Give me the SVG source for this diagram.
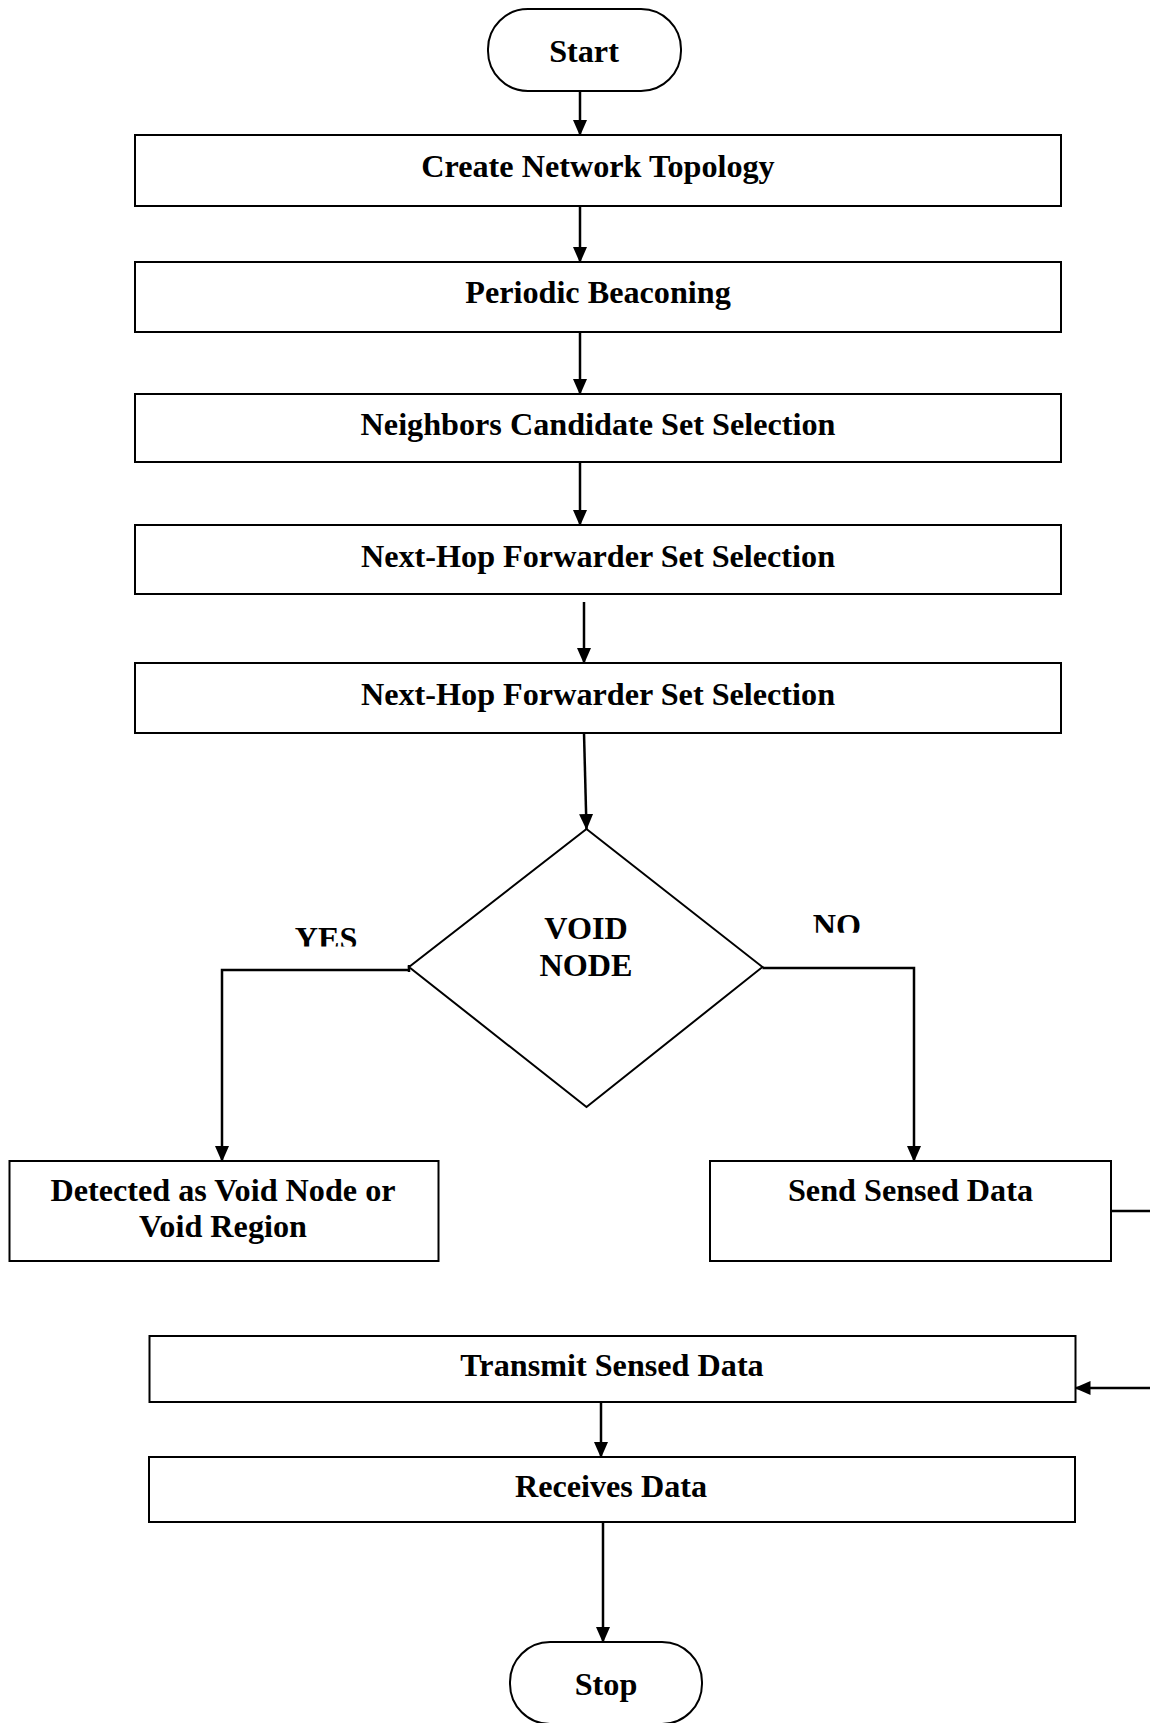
<svg xmlns="http://www.w3.org/2000/svg" width="1150" height="1723" viewBox="0 0 1150 1723">
<style>
.box{fill:#fff;stroke:#000;stroke-width:2}
.t{font-family:"Liberation Serif","Times New Roman",serif;font-weight:bold;font-size:32.2px;text-anchor:middle;fill:#000}
.c{fill:none;stroke:#000;stroke-width:2.5}
</style>
<defs>
<marker id="ah" markerUnits="userSpaceOnUse" markerWidth="16" markerHeight="14" refX="15" refY="7" orient="auto">
<path d="M0,0 L16,7 L0,14 z" fill="#000"/>
</marker>
<clipPath id="clipYes"><rect x="250" y="900" width="150" height="46.5"/></clipPath>
<clipPath id="clipNo"><rect x="780" y="890" width="120" height="42.7"/></clipPath>
</defs>
<rect width="1150" height="1723" fill="#fff"/>
<g id="connectors">
<line class="c" x1="580" y1="91" x2="580" y2="135" marker-end="url(#ah)"/>
<line class="c" x1="580" y1="206" x2="580" y2="262" marker-end="url(#ah)"/>
<line class="c" x1="580" y1="332" x2="580" y2="394" marker-end="url(#ah)"/>
<line class="c" x1="580" y1="462" x2="580" y2="525" marker-end="url(#ah)"/>
<line class="c" x1="584" y1="602" x2="584" y2="663" marker-end="url(#ah)"/>
<line class="c" x1="584" y1="733" x2="586.5" y2="829" marker-end="url(#ah)"/>
<polyline class="c" points="409,970 222,970 222,1161" marker-end="url(#ah)"/>
<line class="c" x1="409" y1="965" x2="409" y2="972"/>
<polyline class="c" points="762.5,968 914,968 914,1161" marker-end="url(#ah)"/>
<polyline class="c" points="1111,1211 1156,1211 1156,1388 1075.5,1388" marker-end="url(#ah)"/>
<line class="c" x1="601" y1="1402" x2="601" y2="1457" marker-end="url(#ah)"/>
<line class="c" x1="603" y1="1522" x2="603" y2="1642" marker-end="url(#ah)"/>
</g>
<g id="start">
<rect class="box" x="488" y="9" width="193" height="82" rx="40" ry="40"/>
<text class="t" x="584" y="62">Start</text>
</g>
<g id="create">
<rect class="box" x="135" y="135" width="926" height="71"/>
<text class="t" x="598" y="177">Create Network Topology</text>
</g>
<g id="beacon">
<rect class="box" x="135" y="262" width="926" height="70"/>
<text class="t" x="598" y="303">Periodic Beaconing</text>
</g>
<g id="neighbors">
<rect class="box" x="135" y="394" width="926" height="68"/>
<text class="t" x="598" y="435">Neighbors Candidate Set Selection</text>
</g>
<g id="nexthop1">
<rect class="box" x="135" y="525" width="926" height="69"/>
<text class="t" x="598" y="567">Next-Hop Forwarder Set Selection</text>
</g>
<g id="nexthop2">
<rect class="box" x="135" y="663" width="926" height="70"/>
<text class="t" x="598" y="705">Next-Hop Forwarder Set Selection</text>
</g>
<g id="void">
<polygon class="box" points="586.5,829 762.5,967 586.5,1107 409,967"/>
<text class="t" x="586" y="939">VOID</text>
<text class="t" x="586" y="976">NODE</text>
</g>
<g id="labels">
<text class="t" x="326" y="948.5" clip-path="url(#clipYes)">YES</text>
<text class="t" x="837" y="935.6" clip-path="url(#clipNo)">NO</text>
</g>
<g id="detected">
<rect class="box" x="9.5" y="1161" width="429" height="100"/>
<text class="t" x="223" y="1201">Detected as Void Node or</text>
<text class="t" x="223" y="1237">Void Region</text>
</g>
<g id="send">
<rect class="box" x="710" y="1161" width="401" height="100"/>
<text class="t" x="910.5" y="1201">Send Sensed Data</text>
</g>
<g id="transmit">
<rect class="box" x="149.5" y="1336" width="926" height="66"/>
<text class="t" x="612" y="1376">Transmit Sensed Data</text>
</g>
<g id="receives">
<rect class="box" x="149" y="1457" width="926" height="65"/>
<text class="t" x="611" y="1497">Receives Data</text>
</g>
<g id="stop">
<rect class="box" x="510" y="1642" width="192" height="82" rx="40" ry="40"/>
<text class="t" x="606" y="1695">Stop</text>
</g>
</svg>
